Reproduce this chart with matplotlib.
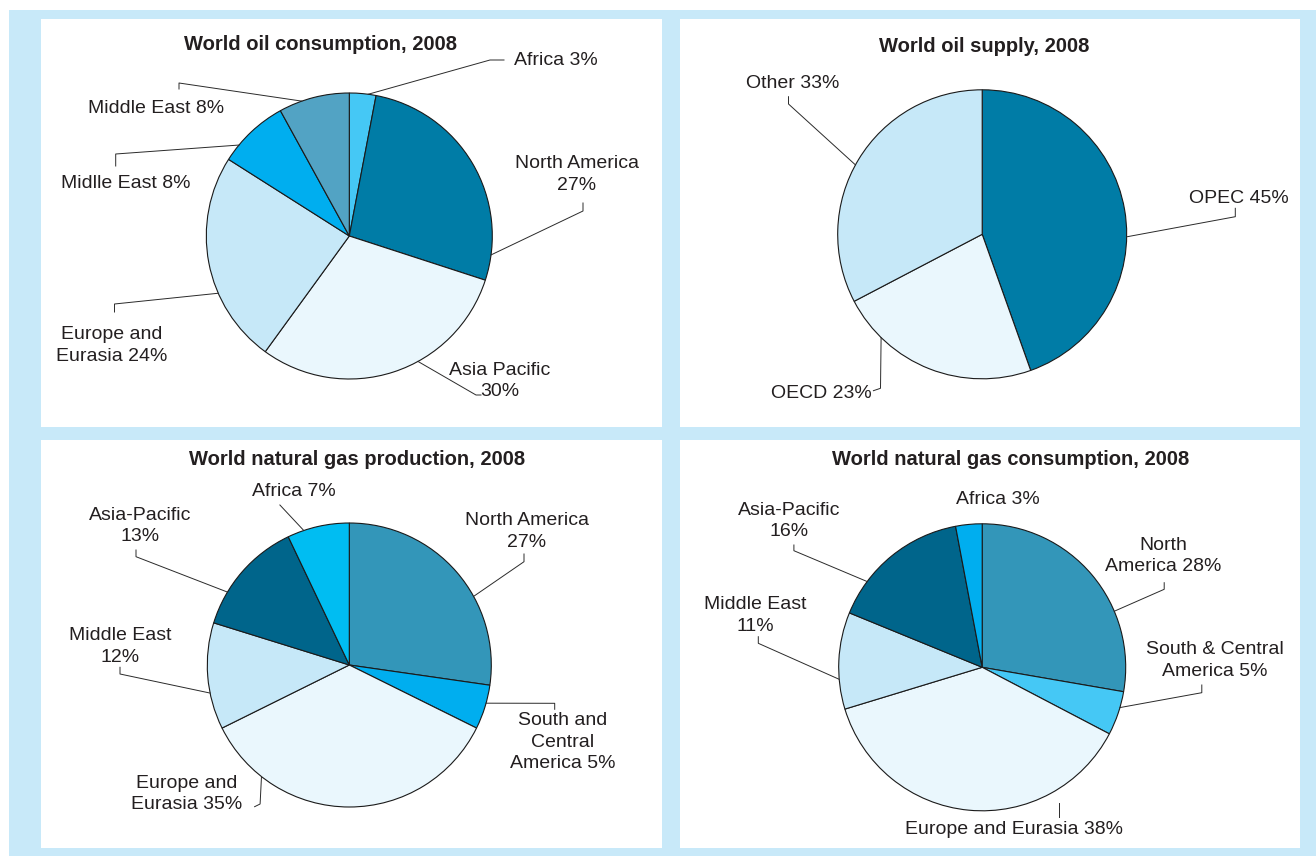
import numpy as np
import matplotlib
matplotlib.use("Agg")
import matplotlib.pyplot as plt
from matplotlib.patches import Rectangle

plt.rcParams["font.family"] = ["Liberation Sans", "DejaVu Sans"]

W, H = 1316, 856

# --- data -------------------------------------------------------------
oil_cons_values = [3, 27, 30, 24, 8, 8]
oil_cons_labels = ["Africa 3%", "North America\n27%", "Asia Pacific\n30%",
                   "Europe and\nEurasia 24%", "Midlle East 8%", "Middle East 8%"]

oil_supply_values = [45, 23, 33]
oil_supply_labels = ["OPEC 45%", "OECD 23%", "Other 33%"]

gas_prod_values = [27, 5, 35, 12, 13, 7]
gas_prod_labels = ["North America\n27%", "South and\nCentral\nAmerica 5%",
                   "Europe and\nEurasia 35%", "Middle East\n12%",
                   "Asia-Pacific\n13%", "Africa 7%"]

gas_cons_values = [28, 5, 38, 11, 16, 3]
gas_cons_labels = ["North\nAmerica 28%", "South & Central\nAmerica 5%",
                   "Europe and Eurasia 38%", "Middle East\n11%",
                   "Asia-Pacific\n16%", "Africa 3%"]

titles = ["World oil consumption, 2008", "World oil supply, 2008",
          "World natural gas production, 2008", "World natural gas consumption, 2008"]

# --- colours ----------------------------------------------------------
DARK_TEAL = "#007ca6"
PALE = "#eaf7fd"
LIGHT = "#c6e8f8"
CYAN = "#00aeef"
SKY = "#45c8f5"
MUTED = "#52a3c4"
GAS_NA = "#3396b9"
NAVY = "#00658b"
GAS_AF = "#00bdf2"
FRAME = "#c8e9f9"
TEXT = "#231f20"

oil_cons_colors = [SKY, DARK_TEAL, PALE, LIGHT, CYAN, MUTED]
oil_supply_colors = [DARK_TEAL, PALE, LIGHT]
gas_prod_colors = [GAS_NA, CYAN, PALE, LIGHT, NAVY, GAS_AF]
gas_cons_colors = [GAS_NA, SKY, PALE, LIGHT, NAVY, CYAN]

# --- layout (image pixels, y measured from top) -----------------------
panels = [
    dict(box=(41, 19, 662, 427), title_xy=(321, 44), center=(349.3, 236), r=143,
         values=oil_cons_values, colors=oil_cons_colors, labels=oil_cons_labels,
         label_xy=[(555.8, 60), (576.6, 174.5), (500, 381), (112, 345.5),
                   (125.8, 183.3), (155.7, 108)],
         anchors=[82.4, -7.6, -61.3, -156.4, 140.5, 109.4],
         bends=[[(490, 60), (504, 60)], [(583, 211), (583, 203)],
                [(476, 395), (481, 395)], [(114.5, 304), (114.5, 312)],
                [(115.7, 154), (115.7, 166)], [(179, 83), (179, 89)]]),
    dict(box=(680, 19, 1300, 427), title_xy=(984.2, 46.7), center=(982.2, 234.3), r=144.5,
         values=oil_supply_values, colors=oil_supply_colors, labels=oil_supply_labels,
         label_xy=[(1238.6, 198.3), (821, 393.3), (793, 83.3)],
         anchors=[-1, -134.4, 151.3],
         bends=[[(1235.3, 216.7), (1235.3, 208.3)], [(880.5, 388.3), (873.4, 390.7)],
                [(788.5, 104), (788.5, 96.7)]]),
    dict(box=(41, 440, 662, 848), title_xy=(357.3, 459.3), center=(349.3, 665), r=142,
         values=gas_prod_values, colors=gas_prod_colors, labels=gas_prod_labels,
         label_xy=[(527, 531.3), (563, 742.3), (187, 793.8), (120, 646.7),
                   (140, 525.8), (294, 491)],
         anchors=[28.9, -15.6, -128.2, 191.4, 149.1, 108.7],
         bends=[[(524, 561.7), (524, 554)], [(554.7, 703.3), (554.7, 709.3)],
                [(260.1, 804), (254.6, 806.7)], [(120, 674), (120, 667.3)],
                [(136, 556.7), (136, 550)], [(279.9, 505)]]),
    dict(box=(680, 440, 1300, 848), title_xy=(1011, 459.3), center=(982.2, 667.3), r=143.5,
         values=gas_cons_values, colors=gas_cons_colors, labels=gas_cons_labels,
         label_xy=[(1163, 555.8), (1214.5, 660.5), (1013.8, 829.3), (755, 615.5),
                   (789, 521.2), (998, 499)],
         anchors=[23, -16.3, None, 184.8, 143.3, None],
         bends=[[(1164.2, 589.3), (1164.2, 582.7)], [(1201.8, 692.7), (1201.8, 685)],
                [(1058.7, 803.3), (1058.7, 816.7)], [(758.3, 643.3), (758.3, 636.7)],
                [(793.9, 550.7), (793.9, 545)], []]),
]


def fy(y):
    return H - y


fig = plt.figure(figsize=(W / 100, H / 100), dpi=100)
ax = fig.add_axes([0, 0, 1, 1])

# light blue frame
ax.add_patch(Rectangle((9, 0), W - 9, fy(10), facecolor=FRAME, edgecolor="none"))

for p, title in zip(panels, titles):
    x0, y0, x1, y1 = p["box"]
    ax.add_patch(Rectangle((x0, fy(y1)), x1 - x0, y1 - y0,
                           facecolor="white", edgecolor="none"))
    cx, cy = p["center"][0], fy(p["center"][1])
    ax.pie(p["values"], colors=p["colors"], startangle=90, counterclock=False,
           center=(cx, cy), radius=p["r"], frame=True,
           wedgeprops=dict(edgecolor="#1a1a1a", linewidth=0.8))
    ax.text(p["title_xy"][0], fy(p["title_xy"][1]), title, ha="center", va="center",
            fontsize=14.5, fontweight="bold", color=TEXT)

    for lab, (tx, ty), ang, pts in zip(p["labels"], p["label_xy"], p["anchors"], p["bends"]):
        xs, ys = [], []
        if ang is not None:
            a = np.deg2rad(ang)
            xs.append(cx + p["r"] * np.cos(a))
            ys.append(cy + p["r"] * np.sin(a))
        for bx, by in pts:
            xs.append(bx)
            ys.append(fy(by))
        if len(xs) > 1:
            ax.plot(xs, ys, color="#2a2a2a", linewidth=0.7)
        ax.text(tx, fy(ty), lab, ha="center", va="center", multialignment="center",
                fontsize=14, color=TEXT, linespacing=1.35)

ax.set_xlim(0, W)
ax.set_ylim(0, H)
ax.set_aspect("equal")
ax.axis("off")

fig.savefig("out.png", dpi=100, facecolor="white")
